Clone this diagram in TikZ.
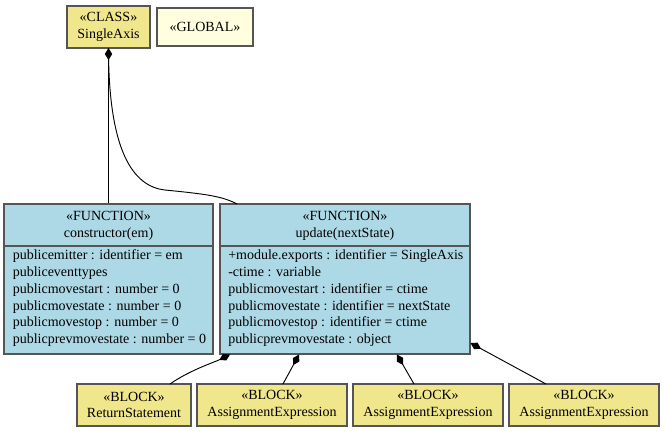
\documentclass[tikz,border=0pt]{standalone}
\usepackage{fontspec}
\setmainfont{Liberation Serif}
\usetikzlibrary{arrows.meta,calc}
\definecolor{khakiF}{HTML}{F0E68C}
\definecolor{lyellow}{HTML}{FFFFE0}
\definecolor{lblue}{HTML}{ADD8E6}
\definecolor{bordc}{HTML}{555555}
\begin{document}
\begin{tikzpicture}[x=0.75pt,y=-0.75pt,
  every node/.style={font=\fontsize{10.5}{12.6}\selectfont, inner sep=0pt},
  box/.style={draw=bordc, line width=0.9pt, rectangle},
  classbox/.style={box, fill=khakiF},
  globalbox/.style={box, fill=lyellow},
  funcbox/.style={box, fill=lblue},
  blockbox/.style={box, fill=khakiF},
  txt/.style={align=center},
  attrs/.style={align=left, anchor=north west},
  comp/.style={line width=0.7pt, black, {Diamond[length=9pt,width=5.5pt]}-},
]
\useasboundingbox (0,0) rectangle (663,430);
% top
\node[classbox, minimum width=62.25pt, minimum height=31.5pt] (cls) at (108.5,27) {};
\node[txt] (clst) at (108.5,27) {«CLASS»\\SingleAxis};
\node[globalbox, minimum width=72pt, minimum height=28.5pt] (glob) at (205,27) {«GLOBAL»};
% functions
\node[funcbox, minimum width=156.75pt, minimum height=112.5pt] (ctor) at (108.5,279) {};
\node[txt] (ctorh) at (108.5,225.5) {«FUNCTION»\\constructor(em)};
\draw[bordc, line width=0.9pt] (ctor.west |- 0,246) -- (ctor.east |- 0,246);
\node[attrs] (ctora) at (12.5,249.5) {publicemitter : identifier = em\\publiceventtypes\\publicmovestart : number = 0\\publicmovestate : number = 0\\publicmovestop : number = 0\\publicprevmovestate : number = 0};
\node[funcbox, minimum width=187.5pt, minimum height=112.5pt] (upd) at (345,279) {};
\node[txt] (updh) at (345,225.5) {«FUNCTION»\\update(nextState)};
\draw[bordc, line width=0.9pt] (upd.west |- 0,246) -- (upd.east |- 0,246);
\node[attrs] (upda) at (228,249.5) {+module.exports : identifier = SingleAxis\\-ctime : variable\\publicmovestart : identifier = ctime\\publicmovestate : identifier = nextState\\publicmovestop : identifier = ctime\\publicprevmovestate : object};
% blocks
\node[blockbox, minimum width=85.5pt, minimum height=31.5pt, txt] (b1) at (134,405) {«BLOCK»\\ReturnStatement};
\node[blockbox, minimum width=112.5pt, minimum height=31.5pt, txt] (b2) at (272,405) {«BLOCK»\\AssignmentExpression};
\node[blockbox, minimum width=112.5pt, minimum height=31.5pt, txt] (b3) at (428,405) {«BLOCK»\\AssignmentExpression};
\node[blockbox, minimum width=112.5pt, minimum height=31.5pt, txt] (b4) at (584,405) {«BLOCK»\\AssignmentExpression};
% attachment points
\coordinate (c0) at (108.5,48);
\coordinate (u1) at (230,354.5);
\coordinate (u2) at (299,354.5);
\coordinate (u3) at (397,354.5);
\coordinate (u4) at (470.5,343);
\coordinate (t1) at (170,384);
\coordinate (t2) at (283,384);
\coordinate (t3) at (414,384);
\coordinate (t4) at (546,384);
% edges
\draw[comp] (c0) -- (c0 |- ctor.north);
\draw[line width=0.7pt] (c0) .. controls (108.5,140) and (128,186) .. (165,190) .. controls (205,194) and (222,196) .. (237,204);
\draw[comp] (u1) .. controls (215,362) and (190,370) .. (t1);
\draw[comp] (u2) -- (t2);
\draw[comp] (u3) -- (t3);
\draw[comp] (u4) -- (t4);
\end{tikzpicture}
\end{document}
